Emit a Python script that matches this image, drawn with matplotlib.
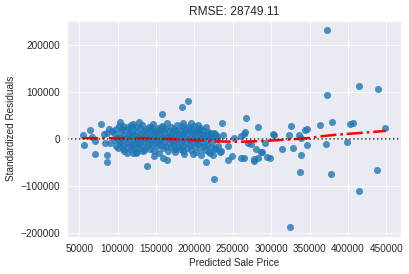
#Gráfico de residuos del modelo de precio de venta
import matplotlib
matplotlib.use("Agg")
import matplotlib.pyplot as plt
import seaborn as sns

#Predicciones (x) y residuos (y)
pred = [54400, 55700, 64300, 66500, 70800, 70800, 78600, 81700, 83800, 86000, 86000, 86000,
        88200, 90300, 92500, 99000, 103300, 103300, 107700, 107700, 112000, 118500, 120600,
        120200, 128000, 123600, 133100, 138300, 144000, 147000, 154800, 157800, 159100, 159100,
        164300, 174300, 183800, 185100, 185100, 191600, 196000, 198100,
        204500, 206800, 215000, 215000, 219800, 219800, 225300, 226200, 227200, 229800, 235000,
        235700, 237000, 243500, 243500, 248700, 251300, 260900, 260900, 265200, 265200, 266100,
        266900, 269500, 273900, 278200, 278200, 280400, 282500, 282500, 286900, 287700, 292500,
        294700, 298100, 302000, 304200, 314600, 322800, 324100, 325400, 328900, 335800, 337100,
        338400, 338400, 343600, 346200, 346200, 363000, 370800, 372000, 372200, 377400, 378600,
        398100, 402000, 405900, 413700, 413700, 437100, 438400, 448800,
        #nube densa
        95000, 96500, 97500, 98000,
        100500, 101000, 102500, 103500, 104000,
        105500, 106000, 107000, 108000, 109000,
        110500, 111000, 112000, 113000, 113500, 114500,
        115500, 116000, 117000, 118000, 118500, 119500,
        120500, 121000, 122000, 123000, 124000, 124500, 125000,
        125500, 126500, 127000, 128000, 129000, 129500,
        130500, 131000, 132000, 133000, 134000, 134500, 135000,
        135500, 136500, 137000, 138000, 139000, 139500,
        140500, 141000, 142000, 143000, 144000, 144500, 145000,
        145500, 146500, 147000, 148000, 149000, 149500,
        150500, 151000, 152000, 153000, 154000, 154500, 155000,
        155500, 156500, 157000, 158000, 159000, 159500,
        160500, 161000, 162000, 163000, 164000, 164500, 165000,
        165500, 166500, 167000, 168000, 169000, 169500,
        170500, 171000, 172000, 173000, 174000, 174500, 175000,
        175500, 176500, 177000, 178000, 179000, 179500,
        180500, 181000, 182000, 183000, 184000, 184500, 185000,
        185500, 186500, 187000, 188000, 189000, 189500,
        190500, 191000, 192000, 193000, 194000, 194500, 195000,
        195500, 196500, 197000, 198000, 199000, 199500,
        200500, 201000, 202000, 203000, 204000, 204500, 205000,
        205500, 206500, 207000, 208000, 209000, 209500,
        210500, 211000, 212000, 213000, 214000, 215000,
        216000, 217000, 218000, 219000, 220000,
        221000, 222000, 223000, 224000, 225000,
        227000, 229000, 231000, 233000]
resid = [7400, -13700, 18500, 4600, -32600, -4600, 32000, 9500, -8000, -34700, -48000, 13000,
         21500, -8000, 16400, 2500, 35400, -8000, 28400, -22100, -29000, -15200, -29000,
         32000, 36200, -29000, -25700, -57300, 24800, -36200, 21500, 53000, 24800, -39600,
         -45300, -22100, 67800, 34100, -25700, 79600, 34100, -32600,
         30500, 23600, 25700, -48800, 13000, -29000, -85300, -18500, 11000, 5900, -25700,
         34100, 7400, -15200, -44600, -36200, 2500, 5900, -41000, 9500, -39600, 14300,
         44600, -8000, -11600, -43200, -46700, -20600, 25700, -39600, -27800, -27000, -8000,
         -37500, -39600, 11000, 8000, -20600, 8800, -186900, 27800, -18500, 8800, -71100,
         2500, -33300, 19400, 21500, -12200, 29900, -10100, 229900, 93000, -73300, 36200,
         -6700, 32000, 34100, 112000, -111100, -64800, 105700, 23600,
         12000, -3000, 22000, -15000,
         5000, -20000, 27000, -6000, 14000,
         -1000, 20000, -12000, 8000, -25000,
         3000, 18000, -9000, 25000, -17000, 10000,
         -4000, 14000, 30000, -22000, 6000, -11000,
         21000, 0, -16000, 9000, 26000, -6000, -28000,
         15000, -2000, -19000, 4000, 23000, -9000,
         11000, -14000, 29000, 1000, -24000, 17000, -5000,
         8000, -17000, 20000, -1000, 13000, -10000,
         26000, 3000, -21000, 16000, -7000, 7000, -13000,
         32000, 0, 19000, -26000, 10000, -4000,
         14000, -16000, 24000, -8000, 5000, -30000, 18000,
         -2000, 9000, -12000, 28000, 1000, -20000,
         12000, -6000, 21000, -15000, 4000, 33000, -25000,
         7000, -9000, 17000, -1000, 26000, -18000,
         2000, 13000, -13000, 22000, -4000, 8000, -28000,
         16000, -7000, 30000, 0, -17000, 11000,
         5000, -22000, 19000, -10000, 27000, -2000, 9000,
         -14000, 14000, -31000, 3000, 22000, -6000,
         10000, -19000, 25000, -3000, 16000, -12000, 6000,
         -24000, 20000, -8000, 12000, 0, 28000,
         -15000, 8000, -27000, 15000, -5000, 22000, -11000,
         2000, 17000, -20000, 6000, -33000, 11000,
         -7000, 19000, -15000, 4000, -24000, 9000,
         -3000, -12000, 14000, -28000, 1000,
         -18000, 8000, -6000, -35000, 12000,
         -22000, 0, -14000, -28000]

#Curva lowess
trend_x = [54000, 80000, 130000, 160000, 180000, 205000, 233000, 259000, 285000, 311000,
           337000, 350000, 362000, 385000, 419000, 449000]
trend_y = [1700, 1700, 1700, 500, -1000, -3500, -5300, -6000, -4600, -2500,
           400, 2000, 5000, 9000, 13000, 17000]

rmse = 28749.11

sns.set_style("darkgrid")
plt.rcParams['font.family'] = ['Liberation Sans', 'DejaVu Sans']

fig = plt.figure(figsize=(409 / 72, 274 / 72), dpi=72)
ax = fig.add_axes([0.164, 0.135, 0.816, 0.79])
ax.scatter(pred, resid, color='#1f77b4', alpha=0.8, s=50, linewidths=0)
ax.plot(trend_x, trend_y, color='red', ls='-.', lw=2.5)
ax.axhline(0, ls=':', c='.2', lw=1.5)
ax.set_xticks(range(50000, 450001, 50000))
ax.set_yticks(range(-200000, 200001, 100000))
ax.set_title("RMSE: %.2f" % rmse, fontsize=12)
ax.set_xlabel("Predicted Sale Price", fontsize=10)
ax.set_ylabel("Standardized Residuals", fontsize=10)
ax.tick_params(labelsize=10)
fig.savefig("out.png", dpi=72)
